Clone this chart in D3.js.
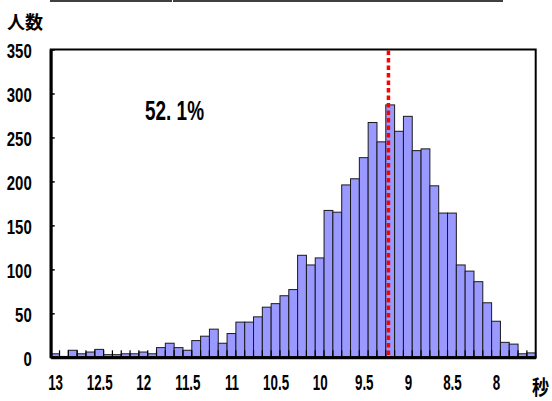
<!DOCTYPE html>
<html>
<head>
<meta charset="utf-8">
<script src="https://cdn.jsdelivr.net/npm/d3@7"></script>
<style>
  html, body { margin: 0; padding: 0; background: #fff; }
  svg { display: block; }
</style>
</head>
<body>
<svg id="chart" width="552" height="401"></svg>
<script>
// Bin start times (seconds), slowest on the left
const binStarts = [13.0,12.9,12.8,12.7,12.6,12.5,12.4,12.3,12.2,12.1,
  12.0,11.9,11.8,11.7,11.6,11.5,11.4,11.3,11.2,11.1,
  11.0,10.9,10.8,10.7,10.6,10.5,10.4,10.3,10.2,10.1,
  10.0,9.9,9.8,9.7,9.6,9.5,9.4,9.3,9.2,9.1,
  9.0,8.9,8.8,8.7,8.6,8.5,8.4,8.3,8.2,8.1,
  8.0,7.9,7.8,7.7,7.6];
// Number of people per bin
const counts = [4,1,8,4,6,9,3,3,4,4,
  6,4,11,16,11,8,19,24,32,16,
  27,40,40,46,57,61,70,77,116,105,
  113,167,165,196,203,227,267,245,287,257,
  274,235,237,195,164,164,105,98,86,62,
  41,17,15,4,5];
const xTickValues = [13,12.5,12,11.5,11,10.5,10,9.5,9,8.5,8];
const yTickValues = [0,50,100,150,200,250,300,350];
const markerValue = 9.22;      // red dotted reference line
const shareLabel = "52. 1%";
const yTitle = "人数";
const xTitle = "秒";

const svg = d3.select("#chart");
const pLeft = 50.7, pRight = 535.7, pTop = 49.5, pBottom = 357.3;

const x = d3.scaleLinear().domain([13.05, 7.55]).range([pLeft, pRight]);
const y = d3.scaleLinear().domain([0, 350]).range([pBottom, pTop]);

// top stray border lines
svg.append("line").attr("x1", 50).attr("x2", 172).attr("y1", 1).attr("y2", 1)
  .attr("stroke", "#000").attr("stroke-width", 1.5);
svg.append("line").attr("x1", 173).attr("x2", 503).attr("y1", 1).attr("y2", 1)
  .attr("stroke", "#000").attr("stroke-width", 1.5);

// bars
const data = binStarts.map((b, i) => ({ b, c: counts[i] }));
svg.append("g").selectAll("rect").data(data).join("rect")
  .attr("x", d => x(d.b + 0.05))
  .attr("width", d => x(d.b - 0.05) - x(d.b + 0.05))
  .attr("y", d => y(d.c))
  .attr("height", d => y(0) - y(d.c))
  .attr("fill", "#9999ff")
  .attr("stroke", "#1a1a1a")
  .attr("stroke-width", 1);

// category boundary tick marks (inside)
const bounds = binStarts.map(b => b + 0.05).slice(1);
svg.append("g").selectAll("line").data(bounds).join("line")
  .attr("x1", d => x(d)).attr("x2", d => x(d))
  .attr("y1", pBottom).attr("y2", pBottom - 7)
  .attr("stroke", "#000").attr("stroke-width", 1.2);

// plot frame
svg.append("rect").attr("x", pLeft).attr("y", pTop)
  .attr("width", pRight - pLeft).attr("height", pBottom - pTop)
  .attr("fill", "none").attr("stroke", "#000").attr("stroke-width", 2);

// y axis
const yAxis = d3.axisLeft(y).tickValues(yTickValues).tickSizeInner(-4).tickSizeOuter(0);
const gy = svg.append("g").attr("transform", `translate(${pLeft},0)`).call(yAxis);
gy.select(".domain").attr("stroke-width", 3);
gy.selectAll(".tick line").attr("stroke-width", 1.5);
gy.selectAll(".tick text")
  .attr("x", 0).attr("dy", "0.36em")
  .attr("transform", "translate(-19,1) scale(0.88,1.14)")
  .attr("font-family", "'Liberation Sans', Arial, sans-serif")
  .attr("font-weight", "bold").attr("font-size", 17).attr("fill", "#000");

// x axis
const xAxis = d3.axisBottom(x).tickValues(xTickValues).tickSize(0).tickFormat(d3.format("~g"));
const gx = svg.append("g").attr("transform", `translate(0,${pBottom})`).call(xAxis);
gx.select(".domain").attr("stroke-width", 3);
gx.selectAll(".tick text")
  .attr("y", 0).attr("dy", 0)
  .attr("transform", "translate(0,33) scale(0.835,1.39)")
  .attr("font-family", "'Liberation Sans', Arial, sans-serif")
  .attr("font-weight", "bold").attr("font-size", 16).attr("fill", "#000");

// red dotted line
svg.append("line")
  .attr("x1", x(markerValue)).attr("x2", x(markerValue))
  .attr("y1", pTop + 1).attr("y2", pBottom - 1)
  .attr("stroke", "#ff0000").attr("stroke-width", 3.5)
  .attr("stroke-dasharray", "4.5,3");

// percentage label
svg.append("text")
  .attr("transform", "translate(145,120) scale(0.79,1.16)")
  .attr("font-family", "'Liberation Sans', Arial, sans-serif")
  .attr("font-weight", "bold").attr("font-size", 24)
  .text(shareLabel);

// axis titles
svg.append("text").attr("x", 7).attr("y", 29)
  .attr("font-family", "'Noto Sans CJK JP', sans-serif")
  .attr("font-weight", "bold").attr("font-size", 18)
  .text(yTitle);
svg.append("text")
  .attr("transform", "translate(532,395) scale(0.95,1.15)")
  .attr("font-family", "'Noto Sans CJK JP', sans-serif")
  .attr("font-weight", "bold").attr("font-size", 18)
  .text(xTitle);
</script>
</body>
</html>
